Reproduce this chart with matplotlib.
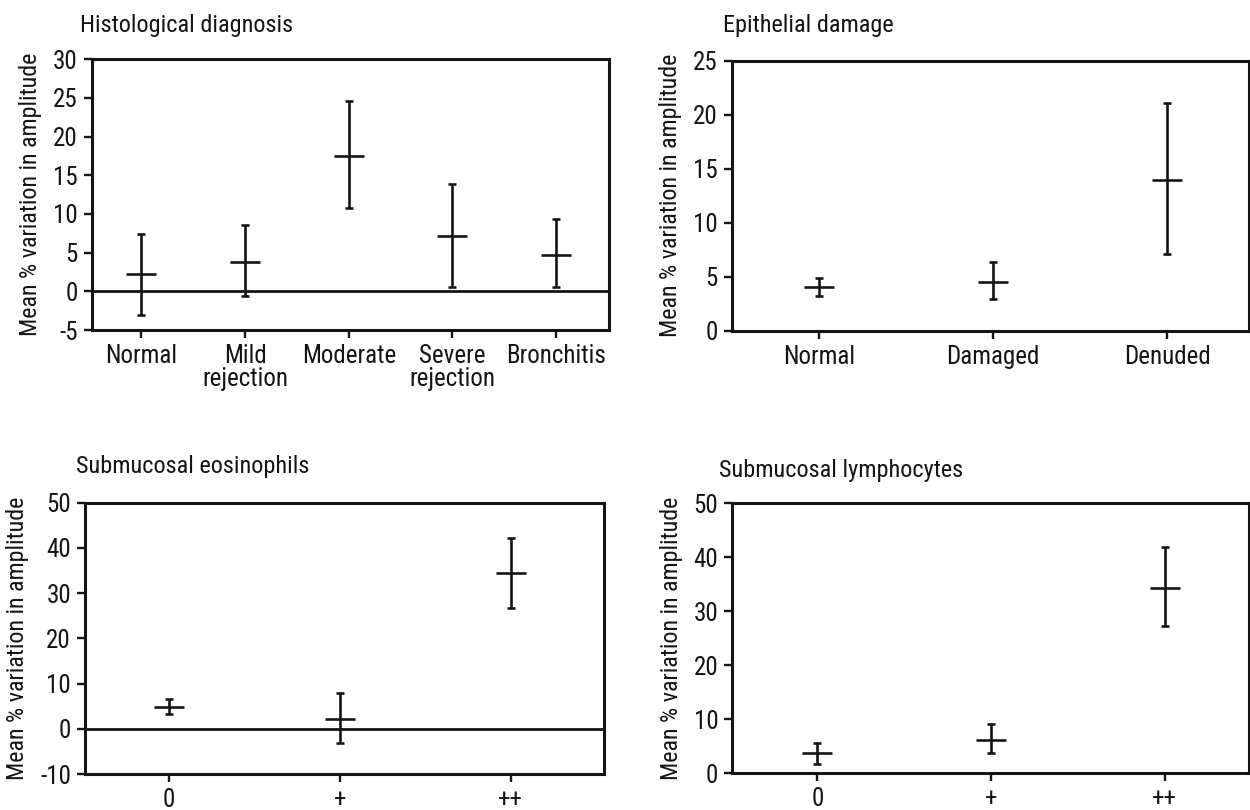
import matplotlib
matplotlib.use("Agg")
import matplotlib.pyplot as plt
import numpy as np

COND = ['Roboto Condensed', 'Liberation Sans', 'DejaVu Sans']
plt.rcParams['font.family'] = COND
plt.rcParams['axes.unicode_minus'] = False

# ---- data ----
hist_categories = ['Normal', 'Mild\nrejection', 'Moderate', 'Severe\nrejection', 'Bronchitis']
hist_mean = [2.2, 3.8, 17.5, 7.2, 4.7]
hist_upper = [7.4, 8.6, 24.6, 13.9, 9.3]
hist_lower = [-3.0, -0.6, 10.8, 0.5, 0.5]

epi_categories = ['Normal', 'Damaged', 'Denuded']
epi_mean = [4.0, 4.5, 14.0]
epi_upper = [4.9, 6.4, 21.1]
epi_lower = [3.2, 2.9, 7.1]

eos_categories = ['0', '+', '++']
eos_mean = [4.8, 2.2, 34.4]
eos_upper = [6.5, 7.9, 42.1]
eos_lower = [3.2, -3.2, 26.8]

lym_categories = ['0', '+', '++']
lym_mean = [3.7, 6.2, 34.4]
lym_upper = [5.7, 9.2, 41.9]
lym_lower = [1.8, 3.8, 27.2]

W, H = 1250, 810
fig = plt.figure(figsize=(W / 100, H / 100), dpi=100)
INK = '#141414'


def px_axes(left, right, top, bottom):
    return fig.add_axes([left / W, 1 - bottom / H, (right - left) / W, (bottom - top) / H])


def draw(ax, cats, mean, upper, lower, ylim, yticks, xlim, zero_line):
    x = np.arange(len(cats))
    mean = np.array(mean)
    err = [mean - np.array(lower), np.array(upper) - mean]
    ax.errorbar(x, mean, yerr=err, fmt='_', color=INK, markersize=21,
                mew=1.9, elinewidth=1.9, capsize=3.2, capthick=1.9, zorder=3)
    if zero_line:
        ax.axhline(0, color=INK, lw=2.0, zorder=2)
    ax.set_xlim(*xlim)
    ax.set_ylim(*ylim)
    ax.set_yticks(yticks)
    ax.set_yticklabels([str(t) for t in yticks], fontsize=18)
    ax.set_xticks(x)
    ax.set_xticklabels(cats, linespacing=0.95, fontsize=18)
    for s in ax.spines.values():
        s.set_linewidth(2.2)
        s.set_color(INK)
    ax.tick_params(axis='both', direction='out', length=6, width=1.7,
                   pad=4, colors=INK)
    ax.set_ylabel('Mean % variation in amplitude', fontsize=17.3, labelpad=8,
                  color=INK)


ax1 = px_axes(91.7, 609, 59.3, 330)
draw(ax1, hist_categories, hist_mean, hist_upper, hist_lower,
     (-5, 30), [-5, 0, 5, 10, 15, 20, 25, 30], (-0.48, 4.51), True)

ax2 = px_axes(732, 1249, 60.7, 330.7)
draw(ax2, epi_categories, epi_mean, epi_upper, epi_lower,
     (0, 25), [0, 5, 10, 15, 20, 25], (-0.5, 2.47), False)

ax3 = px_axes(85, 604, 502.7, 774)
draw(ax3, eos_categories, eos_mean, eos_upper, eos_lower,
     (-10, 50), [-10, 0, 10, 20, 30, 40, 50], (-0.49, 2.545), True)

ax4 = px_axes(732.3, 1249, 503.3, 773.3)
draw(ax4, lym_categories, lym_mean, lym_upper, lym_lower,
     (0, 50), [0, 10, 20, 30, 40, 50], (-0.49, 2.485), False)

titles = [("Histological diagnosis", 80, 31.7),
          ("Epithelial damage", 723, 31.7),
          ("Submucosal eosinophils", 76, 473.3),
          ("Submucosal lymphocytes", 719, 477.3)]
for t, tx, ty in titles:
    fig.text(tx / W, 1 - ty / H, t, fontsize=17.5, ha='left', va='baseline', color=INK)

fig.savefig('out.png', dpi=100)
